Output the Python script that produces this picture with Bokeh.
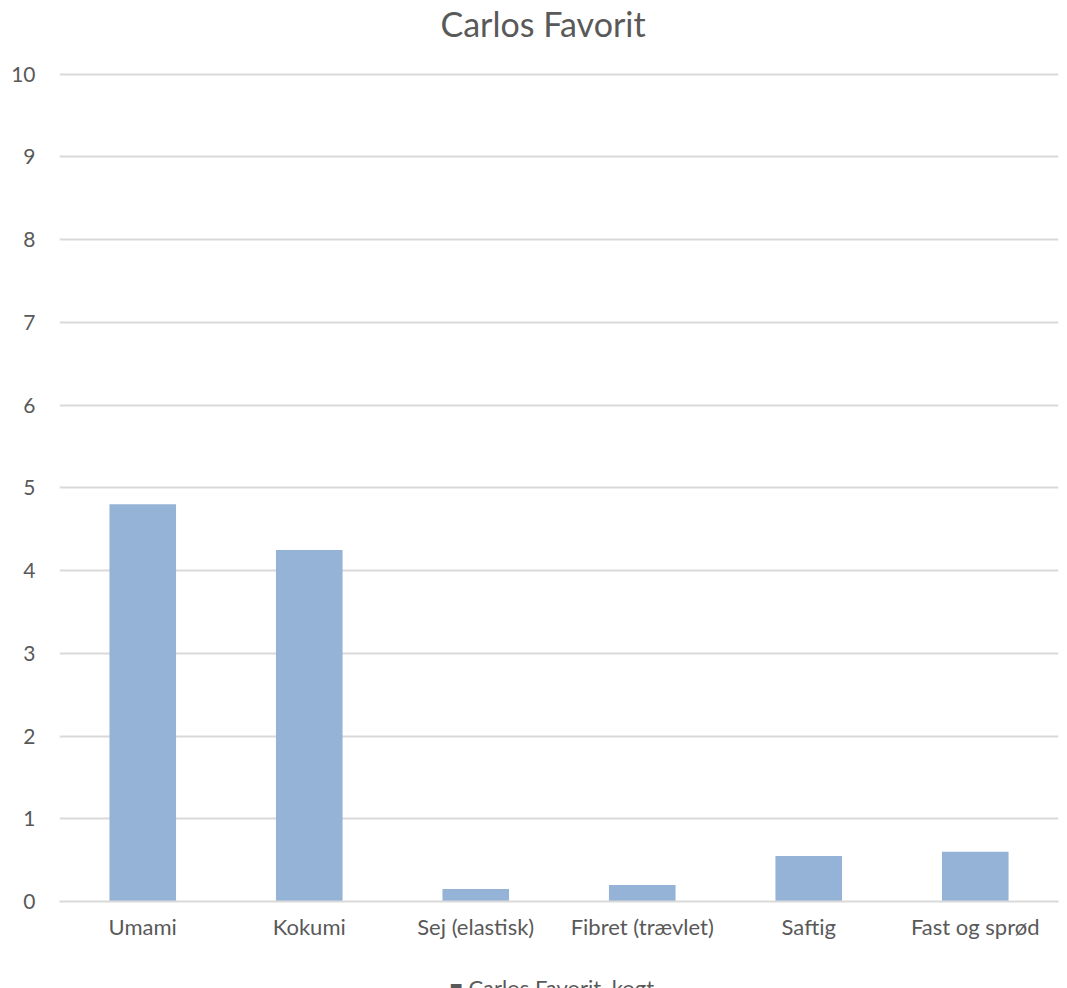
from bokeh.plotting import figure
from bokeh.models import ColumnDataSource, FactorRange, Range1d, SingleIntervalTicker, Title
from bokeh.embed import file_html
from bokeh.resources import INLINE

categories = ["Umami", "Kokumi", "Sej (elastisk)", "Fibret (trævlet)", "Saftig", "Fast og sprød"]
values = [4.8, 4.25, 0.15, 0.2, 0.55, 0.6]
series_name = "Carlos Favorit, kogt"
title_text = "Carlos Favorit"

FONT = "Lato"
TXT = "#595959"

src = ColumnDataSource(dict(cat=categories, val=values))

p = figure(frame_width=999, frame_height=829, x_range=FactorRange(*categories, range_padding=0),
           y_range=Range1d(0, 10.02), output_backend="svg", toolbar_location=None,
           min_border_left=59, min_border_right=1, min_border_top=0, min_border_bottom=0)
p.outline_line_color = None
p.background_fill_color = "white"
p.border_fill_color = "white"

p.title.text = title_text
p.title.align = "left"
p.title.text_font = FONT
p.title.text_font_size = "34px"
p.title.text_font_style = "normal"
p.title.text_color = TXT
p.title.offset = 381
props = p.title.properties()
if "standoff" in props:
    p.title.standoff = 0
if "padding" in props:
    p.title.padding = 0

p.add_layout(Title(text=" ", text_font_size="16px"), "above")

r = p.vbar(x="cat", top="val", width=0.4, source=src, fill_color="#95B3D7", line_color=None)

p.yaxis.ticker = SingleIntervalTicker(interval=1)
p.yaxis.axis_line_color = None
p.yaxis.major_tick_line_color = None
p.yaxis.minor_tick_line_color = None
p.yaxis.major_tick_out = 0
p.yaxis.major_tick_in = 0
p.yaxis.major_label_text_font = FONT
p.yaxis.major_label_text_font_size = "21px"
p.yaxis.major_label_text_color = TXT
p.yaxis.major_label_standoff = 20

p.xaxis.axis_line_color = "#D9D9D9"
p.xaxis.axis_line_width = 2
p.xaxis.major_tick_line_color = None
p.xaxis.minor_tick_line_color = None
p.xaxis.major_tick_out = 0
p.xaxis.major_tick_in = 0
p.xaxis.axis_label_standoff = 0
p.xaxis.major_label_text_font = FONT
p.xaxis.major_label_text_font_size = "22px"
p.xaxis.major_label_text_color = TXT
p.xaxis.major_label_standoff = 11

p.xgrid.grid_line_color = None
p.ygrid.grid_line_color = "#D9D9D9"
p.ygrid.grid_line_width = 2

# legend row below the axis (spacer + key text)
spacer_b = Title(text=" ", text_font_size="16px")
p.add_layout(spacer_b, "below")
key = Title(text="■ " + series_name, align="left", offset=390, text_font=FONT,
            text_font_size="22px", text_font_style="normal", text_color=TXT)
if "standoff" in key.properties():
    key.standoff = 0
p.add_layout(key, "below")

open("out.html", "w").write(file_html(p, INLINE))
